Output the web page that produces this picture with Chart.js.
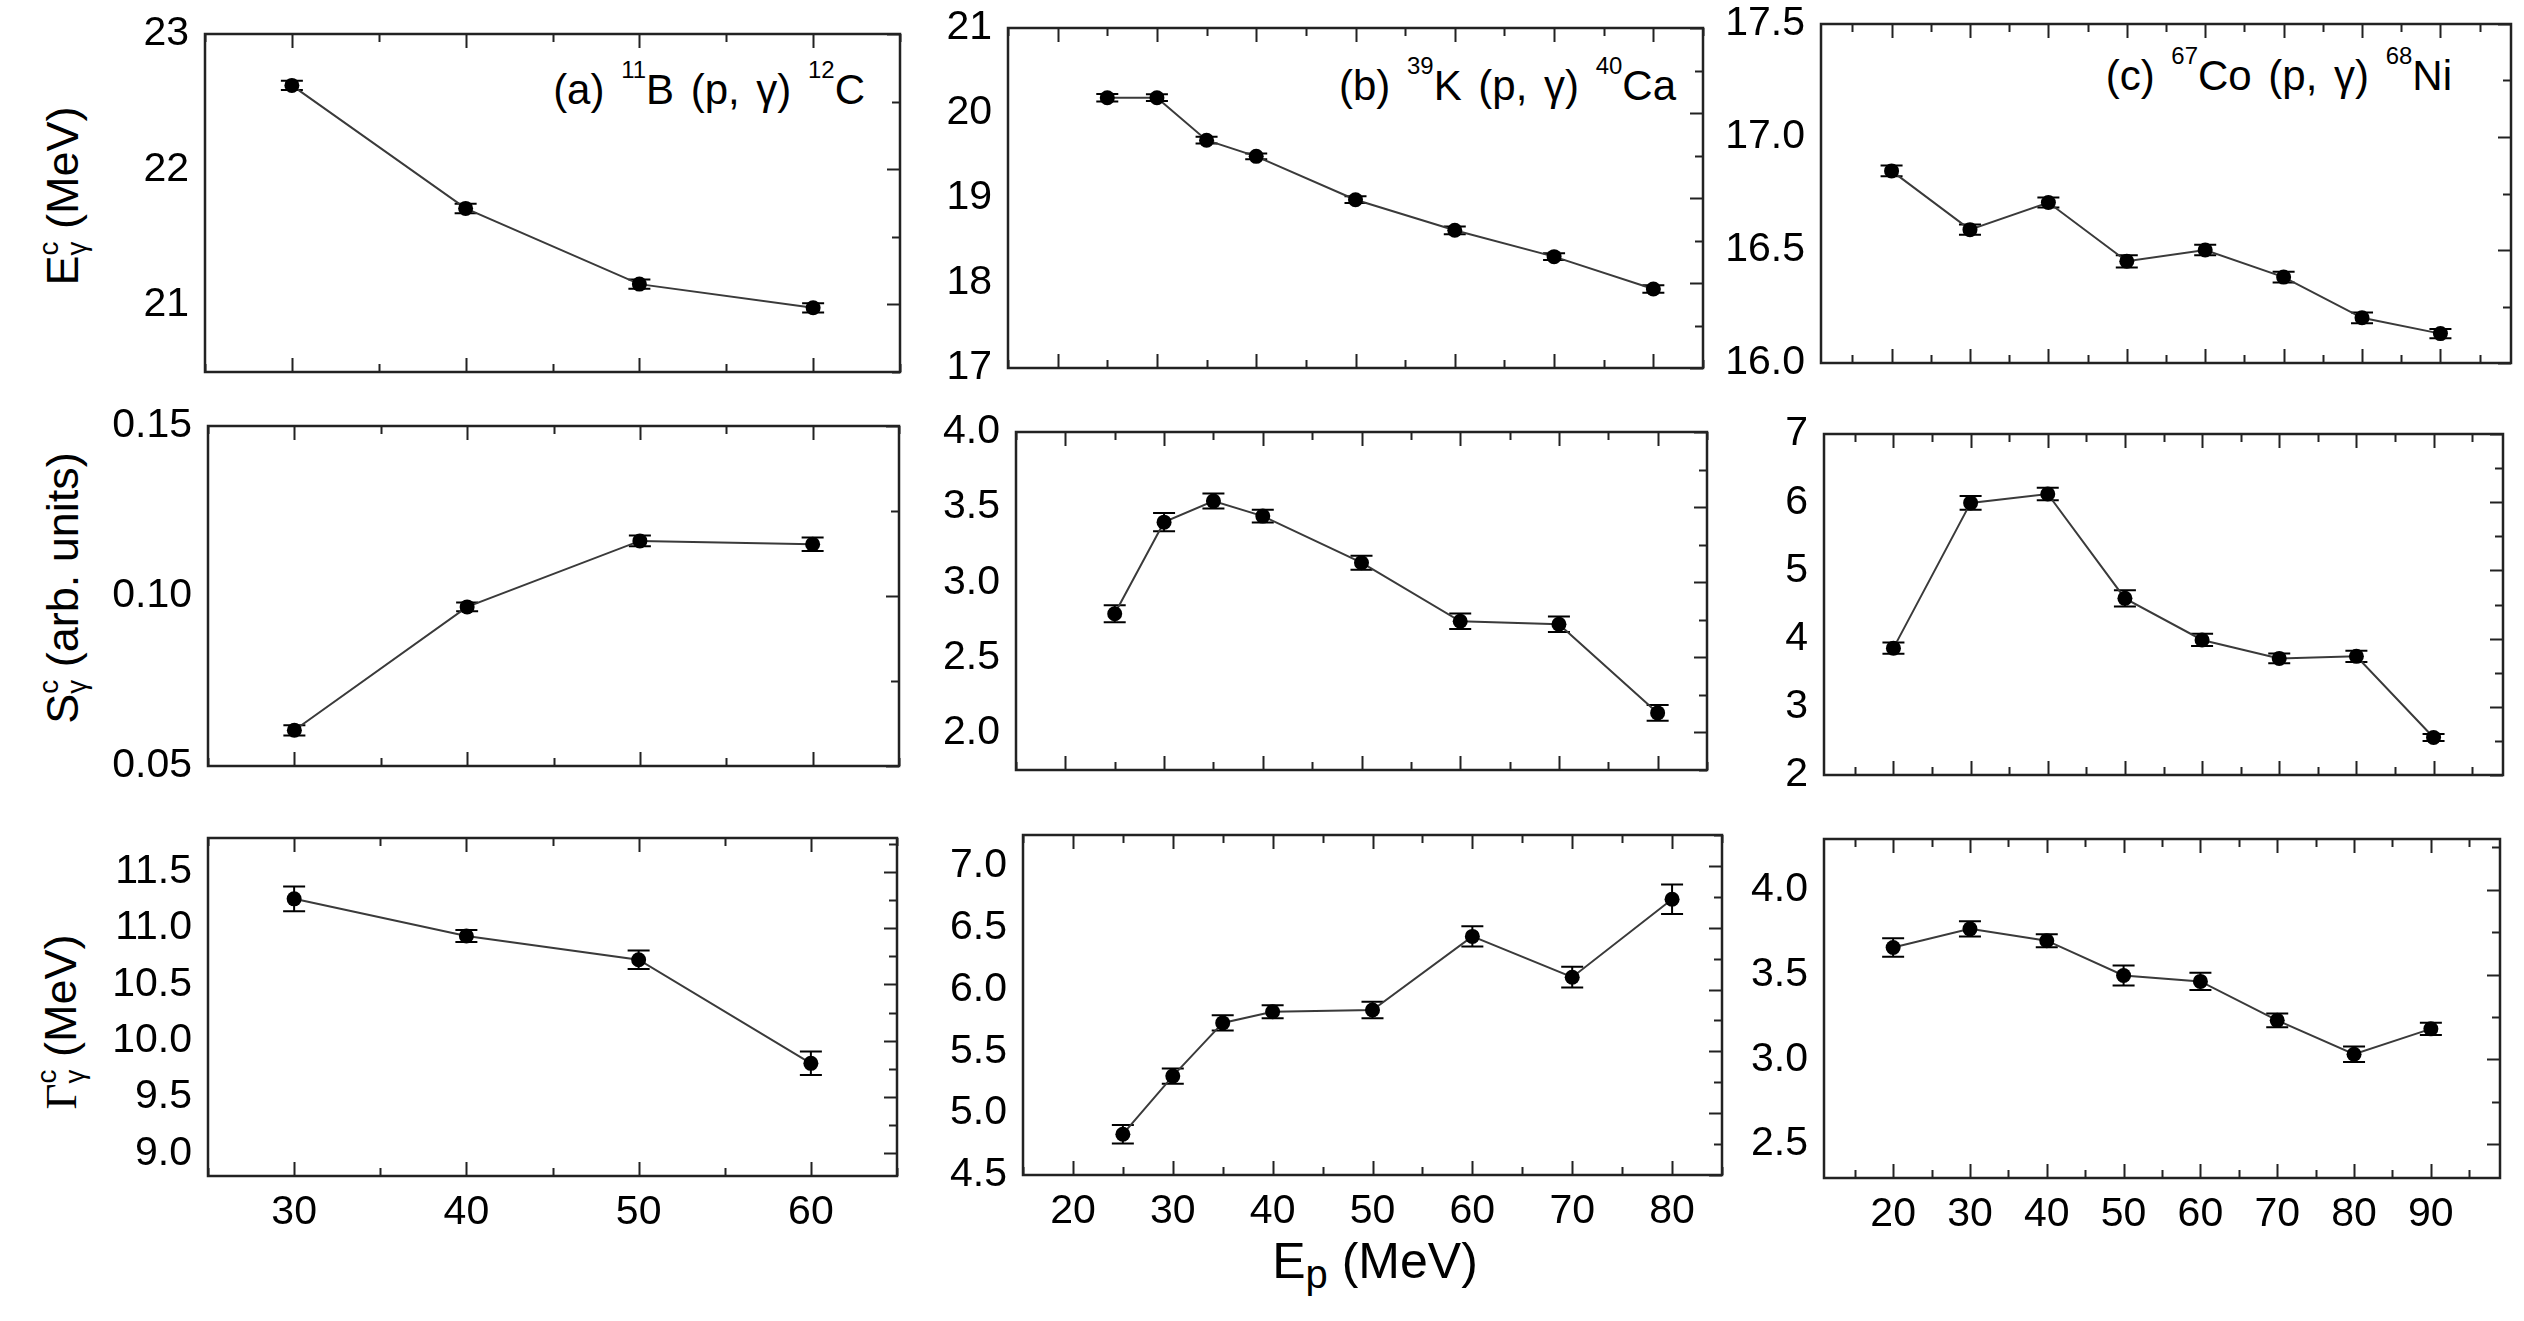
<!DOCTYPE html>
<html>
<head>
<meta charset="utf-8">
<script src="https://cdn.jsdelivr.net/npm/chart.js@4.4.1/dist/chart.umd.min.js"></script>
<style>
  html, body { margin: 0; padding: 0; background: #fff; }
  body { width: 2524px; height: 1321px; position: relative; overflow: hidden;
         font-family: "Liberation Sans", Arial, sans-serif; color: #000; }
  canvas { position: absolute; }
  .ytitle { position: absolute; white-space: nowrap; font-size: 45px; line-height: 1;
            transform: translate(-50%, -50%) rotate(-90deg); }
  .xtitle { position: absolute; white-space: nowrap; font-size: 50px; line-height: 1;
            transform: translateX(-50%); }
  .note { position: absolute; white-space: nowrap; font-size: 42px; line-height: 1; word-spacing: 5px; }
  .sp { font-size: 0.57em; position: relative; top: -1.1em; }
  .ss { display: inline-block; font-size: 0.62em; line-height: 1; vertical-align: -0.3em; }
  .ss span { display: block; }
  .sub { font-size: 0.8em; position: relative; top: 0.25em; }
  .serif { font-family: "Liberation Serif", serif; }
</style>
</head>
<body>

<div class="ytitle" style="left:63px; top:196px;">E<span class="ss"><span>c</span><span>γ</span></span> (MeV)</div>
<div class="ytitle" style="left:63px; top:588px;">S<span class="ss"><span>c</span><span>γ</span></span> (arb. units)</div>
<div class="ytitle" style="left:61px; top:1022px;"><span class="serif">Γ</span><span class="ss"><span>c</span><span>γ</span></span> (MeV)</div>
<div class="xtitle" style="left:1375px; top:1236px;">E<span class="sub">p</span> (MeV)</div>

<div class="note" style="right:1659px; top:69px;">(a) <span class="sp">11</span>B (p, γ) <span class="sp">12</span>C</div>
<div class="note" style="right:848px; top:65px;">(b) <span class="sp">39</span>K (p, γ) <span class="sp">40</span>Ca</div>
<div class="note" style="right:72px; top:55px;">(c) <span class="sp">67</span>Co (p, γ) <span class="sp">68</span>Ni</div>

<script>
// proton energies E_p (MeV)
const epB11 = [30, 40, 50, 60];
const epK39 = [25, 30, 35, 40, 50, 60, 70, 80];
const epCo67 = [20, 30, 40, 50, 60, 70, 80, 90];

// 11B(p,g)12C
const egB11 = [22.62, 21.71, 21.15, 20.975];
const egB11Err = [0.035, 0.035, 0.034, 0.034];
const sgB11 = [0.0605, 0.0968, 0.1162, 0.1152];
const sgB11Err = [0.0015, 0.0013, 0.0016, 0.002];
const ggB11 = [11.26, 10.93, 10.72, 9.80];
const ggB11Err = [0.11, 0.054, 0.082, 0.104];

// 39K(p,g)40Ca
const egK39 = [20.18, 20.18, 19.68, 19.49, 18.98, 18.62, 18.31, 17.93];
const egK39Err = [0.045, 0.04, 0.04, 0.035, 0.04, 0.045, 0.04, 0.045];
const sgK39 = [2.79, 3.40, 3.54, 3.44, 3.13, 2.74, 2.72, 2.13];
const sgK39Err = [0.056, 0.06, 0.05, 0.042, 0.047, 0.052, 0.051, 0.052];
const ggK39 = [4.83, 5.30, 5.73, 5.82, 5.835, 6.43, 6.10, 6.73];
const ggK39Err = [0.075, 0.062, 0.062, 0.053, 0.067, 0.081, 0.084, 0.119];

// 67Co(p,g)68Ni
const egCo67 = [16.85, 16.59, 16.71, 16.45, 16.50, 16.38, 16.20, 16.13];
const egCo67Err = [0.024, 0.023, 0.022, 0.027, 0.023, 0.024, 0.024, 0.02];
const sgCo67 = [3.86, 5.99, 6.12, 4.59, 3.98, 3.71, 3.74, 2.55];
const sgCo67Err = [0.083, 0.1, 0.093, 0.12, 0.09, 0.073, 0.083, 0.05];
const ggCo67 = [3.66, 3.77, 3.70, 3.495, 3.46, 3.23, 3.03, 3.18];
const ggCo67Err = [0.054, 0.045, 0.038, 0.059, 0.051, 0.041, 0.046, 0.036];

// tick labels
const xTicksB11 = [30, 40, 50, 60];
const xTicksK39 = [20, 30, 40, 50, 60, 70, 80];
const xTicksCo67 = [20, 30, 40, 50, 60, 70, 80, 90];
const yTicksEgB11 = [21, 22, 23];
const yTicksSgB11 = [0.05, 0.10, 0.15];
const yTicksGgB11 = [9.0, 9.5, 10.0, 10.5, 11.0, 11.5];
const yTicksEgK39 = [17, 18, 19, 20, 21];
const yTicksSgK39 = [2.0, 2.5, 3.0, 3.5, 4.0];
const yTicksGgK39 = [4.5, 5.0, 5.5, 6.0, 6.5, 7.0];
const yTicksEgCo67 = [16.0, 16.5, 17.0, 17.5];
const yTicksSgCo67 = [2, 3, 4, 5, 6, 7];
const yTicksGgCo67 = [2.5, 3.0, 3.5, 4.0];

// panel layout: box = [left, top, right, bottom] of the plot frame
const panels = [
  { xs: epB11, ys: egB11, err: egB11Err, x: [25, 65], xt: xTicksB11, y: [20.5, 23], yt: yTicksEgB11, yMinor: 0.5, dec: 0, box: [205, 34, 900, 372], showX: false },
  { xs: epK39, ys: egK39, err: egK39Err, x: [15, 85], xt: xTicksK39, y: [17, 21], yt: yTicksEgK39, yMinor: 0.5, dec: 0, box: [1008, 28, 1703, 368], showX: false },
  { xs: epCo67, ys: egCo67, err: egCo67Err, x: [11, 99], xt: xTicksCo67, y: [16, 17.5], yt: yTicksEgCo67, yMinor: 0.25, dec: 1, box: [1821, 24, 2511, 363], showX: false },
  { xs: epB11, ys: sgB11, err: sgB11Err, x: [25, 65], xt: xTicksB11, y: [0.05, 0.15], yt: yTicksSgB11, yMinor: 0.025, dec: 2, box: [208, 426, 899, 766], showX: false },
  { xs: epK39, ys: sgK39, err: sgK39Err, x: [15, 85], xt: xTicksK39, y: [1.75, 4.0], yt: yTicksSgK39, yMinor: 0.25, dec: 1, box: [1016, 432, 1707, 770], showX: false },
  { xs: epCo67, ys: sgCo67, err: sgCo67Err, x: [11, 99], xt: xTicksCo67, y: [2, 7], yt: yTicksSgCo67, yMinor: 0.5, dec: 0, box: [1824, 434, 2503, 775], showX: false },
  { xs: epB11, ys: ggB11, err: ggB11Err, x: [25, 65], xt: xTicksB11, y: [8.8, 11.8], yt: yTicksGgB11, yMinor: 0.25, dec: 1, box: [208, 838, 897, 1176], showX: true },
  { xs: epK39, ys: ggK39, err: ggK39Err, x: [15, 85], xt: xTicksK39, y: [4.5, 7.25], yt: yTicksGgK39, yMinor: 0.25, dec: 1, box: [1023, 835, 1722, 1175], showX: true },
  { xs: epCo67, ys: ggCo67, err: ggCo67Err, x: [11, 99], xt: xTicksCo67, y: [2.3, 4.3], yt: yTicksGgCo67, yMinor: 0.25, dec: 1, box: [1824, 839, 2500, 1178], showX: true }
];

const PAD_L = 150, PAD_T = 50, PAD_R = 30;

function isIn(list, v) {
  return list.some(t => Math.abs(t - v) < 1e-6);
}

// error bars + boxed frame with inward ticks
const framePlugin = {
  id: 'frame',
  beforeDatasetsDraw(chart) {
    const { ctx, scales: { x, y } } = chart;
    ctx.save();
    ctx.strokeStyle = '#000';
    ctx.lineWidth = 2;
    chart.data.datasets.forEach(ds => {
      if (!ds.errors) return;
      ds.data.forEach((p, i) => {
        const px = x.getPixelForValue(p.x);
        const y1 = y.getPixelForValue(p.y + ds.errors[i]);
        const y2 = y.getPixelForValue(p.y - ds.errors[i]);
        const cap = 11;
        ctx.beginPath();
        ctx.moveTo(px, y1); ctx.lineTo(px, y2);
        ctx.moveTo(px - cap, y1); ctx.lineTo(px + cap, y1);
        ctx.moveTo(px - cap, y2); ctx.lineTo(px + cap, y2);
        ctx.stroke();
      });
    });
    ctx.restore();
  },
  afterDraw(chart, args, opts) {
    const { ctx, chartArea: a, scales: { x, y } } = chart;
    ctx.save();
    ctx.strokeStyle = '#222';
    ctx.lineWidth = 2;
    // x ticks, top and bottom
    for (let v = Math.ceil(x.min / 5) * 5; v <= x.max + 1e-9; v += 5) {
      const px = Math.round(x.getPixelForValue(v)) + 0.5;
      const len = isIn(opts.xt, v) ? 14 : 8;
      ctx.beginPath();
      ctx.moveTo(px, a.bottom); ctx.lineTo(px, a.bottom - len);
      ctx.moveTo(px, a.top); ctx.lineTo(px, a.top + len);
      ctx.stroke();
    }
    // y ticks on the right side
    const n = Math.round((y.max - y.min) / opts.yMinor);
    const start = Math.ceil(y.min / opts.yMinor - 1e-6) * opts.yMinor;
    for (let k = 0; k <= n; k++) {
      const v = start + k * opts.yMinor;
      if (v > y.max + 1e-9) break;
      const py = Math.round(y.getPixelForValue(v)) + 0.5;
      const len = isIn(opts.yt, v) ? 13 : 8;
      ctx.beginPath();
      ctx.moveTo(a.right, py); ctx.lineTo(a.right - len, py);
      ctx.stroke();
    }
    ctx.lineWidth = 2.5;
    ctx.strokeRect(a.left, a.top, a.right - a.left, a.bottom - a.top);
    ctx.restore();
  }
};

Chart.defaults.font.family = '"Liberation Sans", Arial, sans-serif';
Chart.defaults.color = '#000';

panels.forEach(p => {
  const [L, T, R, B] = p.box;
  const padB = p.showX ? 90 : 50;
  const cv = document.createElement('canvas');
  cv.width = (R - L) + PAD_L + PAD_R;
  cv.height = (B - T) + PAD_T + padB;
  cv.style.left = (L - PAD_L) + 'px';
  cv.style.top = (T - PAD_T) + 'px';
  document.body.appendChild(cv);

  new Chart(cv.getContext('2d'), {
    type: 'line',
    data: {
      datasets: [{
        data: p.xs.map((v, i) => ({ x: v, y: p.ys[i] })),
        errors: p.err,
        borderColor: '#3a3a3a',
        borderWidth: 2,
        pointRadius: 7.5,
        pointBackgroundColor: '#000',
        pointBorderWidth: 0,
        tension: 0
      }]
    },
    options: {
      responsive: false,
      animation: false,
      devicePixelRatio: 1,
      layout: { padding: { left: 0, top: PAD_T, right: PAD_R, bottom: 0 } },
      plugins: {
        legend: { display: false },
        tooltip: { enabled: false },
        frame: { xt: p.xt, yt: p.yt, yMinor: p.yMinor }
      },
      scales: {
        x: {
          type: 'linear',
          min: p.x[0],
          max: p.x[1],
          grid: { display: false, drawTicks: false },
          border: { display: false },
          afterBuildTicks: s => { s.ticks = p.xt.map(v => ({ value: v })); },
          afterFit: s => { s.height = padB; },
          ticks: { display: p.showX, padding: 12, font: { size: 41 }, callback: v => String(v) }
        },
        y: {
          min: p.y[0],
          max: p.y[1],
          grid: { display: false, drawTicks: false },
          border: { display: false },
          afterBuildTicks: s => { s.ticks = p.yt.map(v => ({ value: v })); },
          afterFit: s => { s.width = PAD_L; },
          ticks: { padding: 16, font: { size: 41 }, callback: v => Number(v).toFixed(p.dec) }
        }
      }
    },
    plugins: [framePlugin]
  });
});
</script>
</body>
</html>
